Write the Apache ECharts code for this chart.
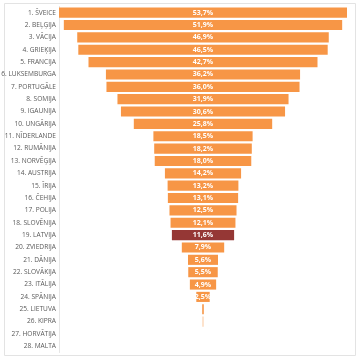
<!DOCTYPE html>
<html><head><meta charset="utf-8">
<script src="https://cdn.jsdelivr.net/npm/echarts@6/dist/echarts.min.js"></script>
<style>html,body{margin:0;padding:0;background:#fff}#c{width:356px;height:359px}</style>
</head><body><div id="c"></div>
<script>
const categories = ["1. ŠVEICE","2. BEĻĢIJA","3. VĀCIJA","4. GRIEĶIJA","5. FRANCIJA","6. LUKSEMBURGA","7. PORTUGĀLE","8. SOMIJA","9. IGAUNIJA","10. UNGĀRIJA","11. NĪDERLANDE","12. RUMĀNIJA","13. NORVĒĢIJA","14. AUSTRIJA","15. ĪRIJA","16. ČEHIJA","17. POLIJA","18. SLOVĒNIJA","19. LATVIJA","20. ZVIEDRIJA","21. DĀNIJA","22. SLOVĀKIJA","23. ITĀLIJA","24. SPĀNIJA","25. LIETUVA","26. KIPRA","27. HORVĀTIJA","28. MALTA"];
const values = [53.7,51.9,46.9,46.5,42.7,36.2,36.0,31.9,30.6,25.8,18.5,18.2,18.0,14.2,13.2,13.1,12.5,12.1,11.6,7.9,5.6,5.5,4.9,2.5,0.3,0.1,0,0];
const highlight = "19. LATVIJA";
const maxV = 53.7;
const spacer = values.map(v => (maxV - v) / 2);
const chart = echarts.init(document.getElementById('c'), null, {renderer:'canvas'});
chart.setOption({
  animation:false,
  graphic:[{type:'rect',shape:{x:4.5,y:3.5,width:351,height:352},style:{fill:'none',stroke:'#e3e3e3',lineWidth:1}}],
  grid:{left:59,right:9,top:6.5,bottom:6.5,containLabel:false,outerBoundsMode:'none'},
  xAxis:{type:'value',min:0,max:maxV,show:false},
  yAxis:{type:'category',data:categories,inverse:true,
    axisLine:{show:true,lineStyle:{color:'#e6e6e6'}},axisTick:{show:false},
    axisLabel:{color:'#595959',fontSize:6.6,fontFamily:'Liberation Sans Narrow, Open Sans',margin:3}},
  series:[
    {type:'bar',stack:'s',data:spacer,itemStyle:{color:'transparent'},barCategoryGap:'18%',silent:true},
    {type:'bar',stack:'s',data:values.map((v,i)=>({value:v,itemStyle:{color:categories[i]===highlight?'#953735':'#F79646'}})),
      label:{show:true,position:'inside',color:'#fff',fontSize:7,fontWeight:'bold',fontFamily:'Liberation Sans Narrow, Open Sans',
        formatter:p=>p.value>=1?p.value.toFixed(1).replace('.',',')+'%':''}}
  ]
});
</script></body></html>
